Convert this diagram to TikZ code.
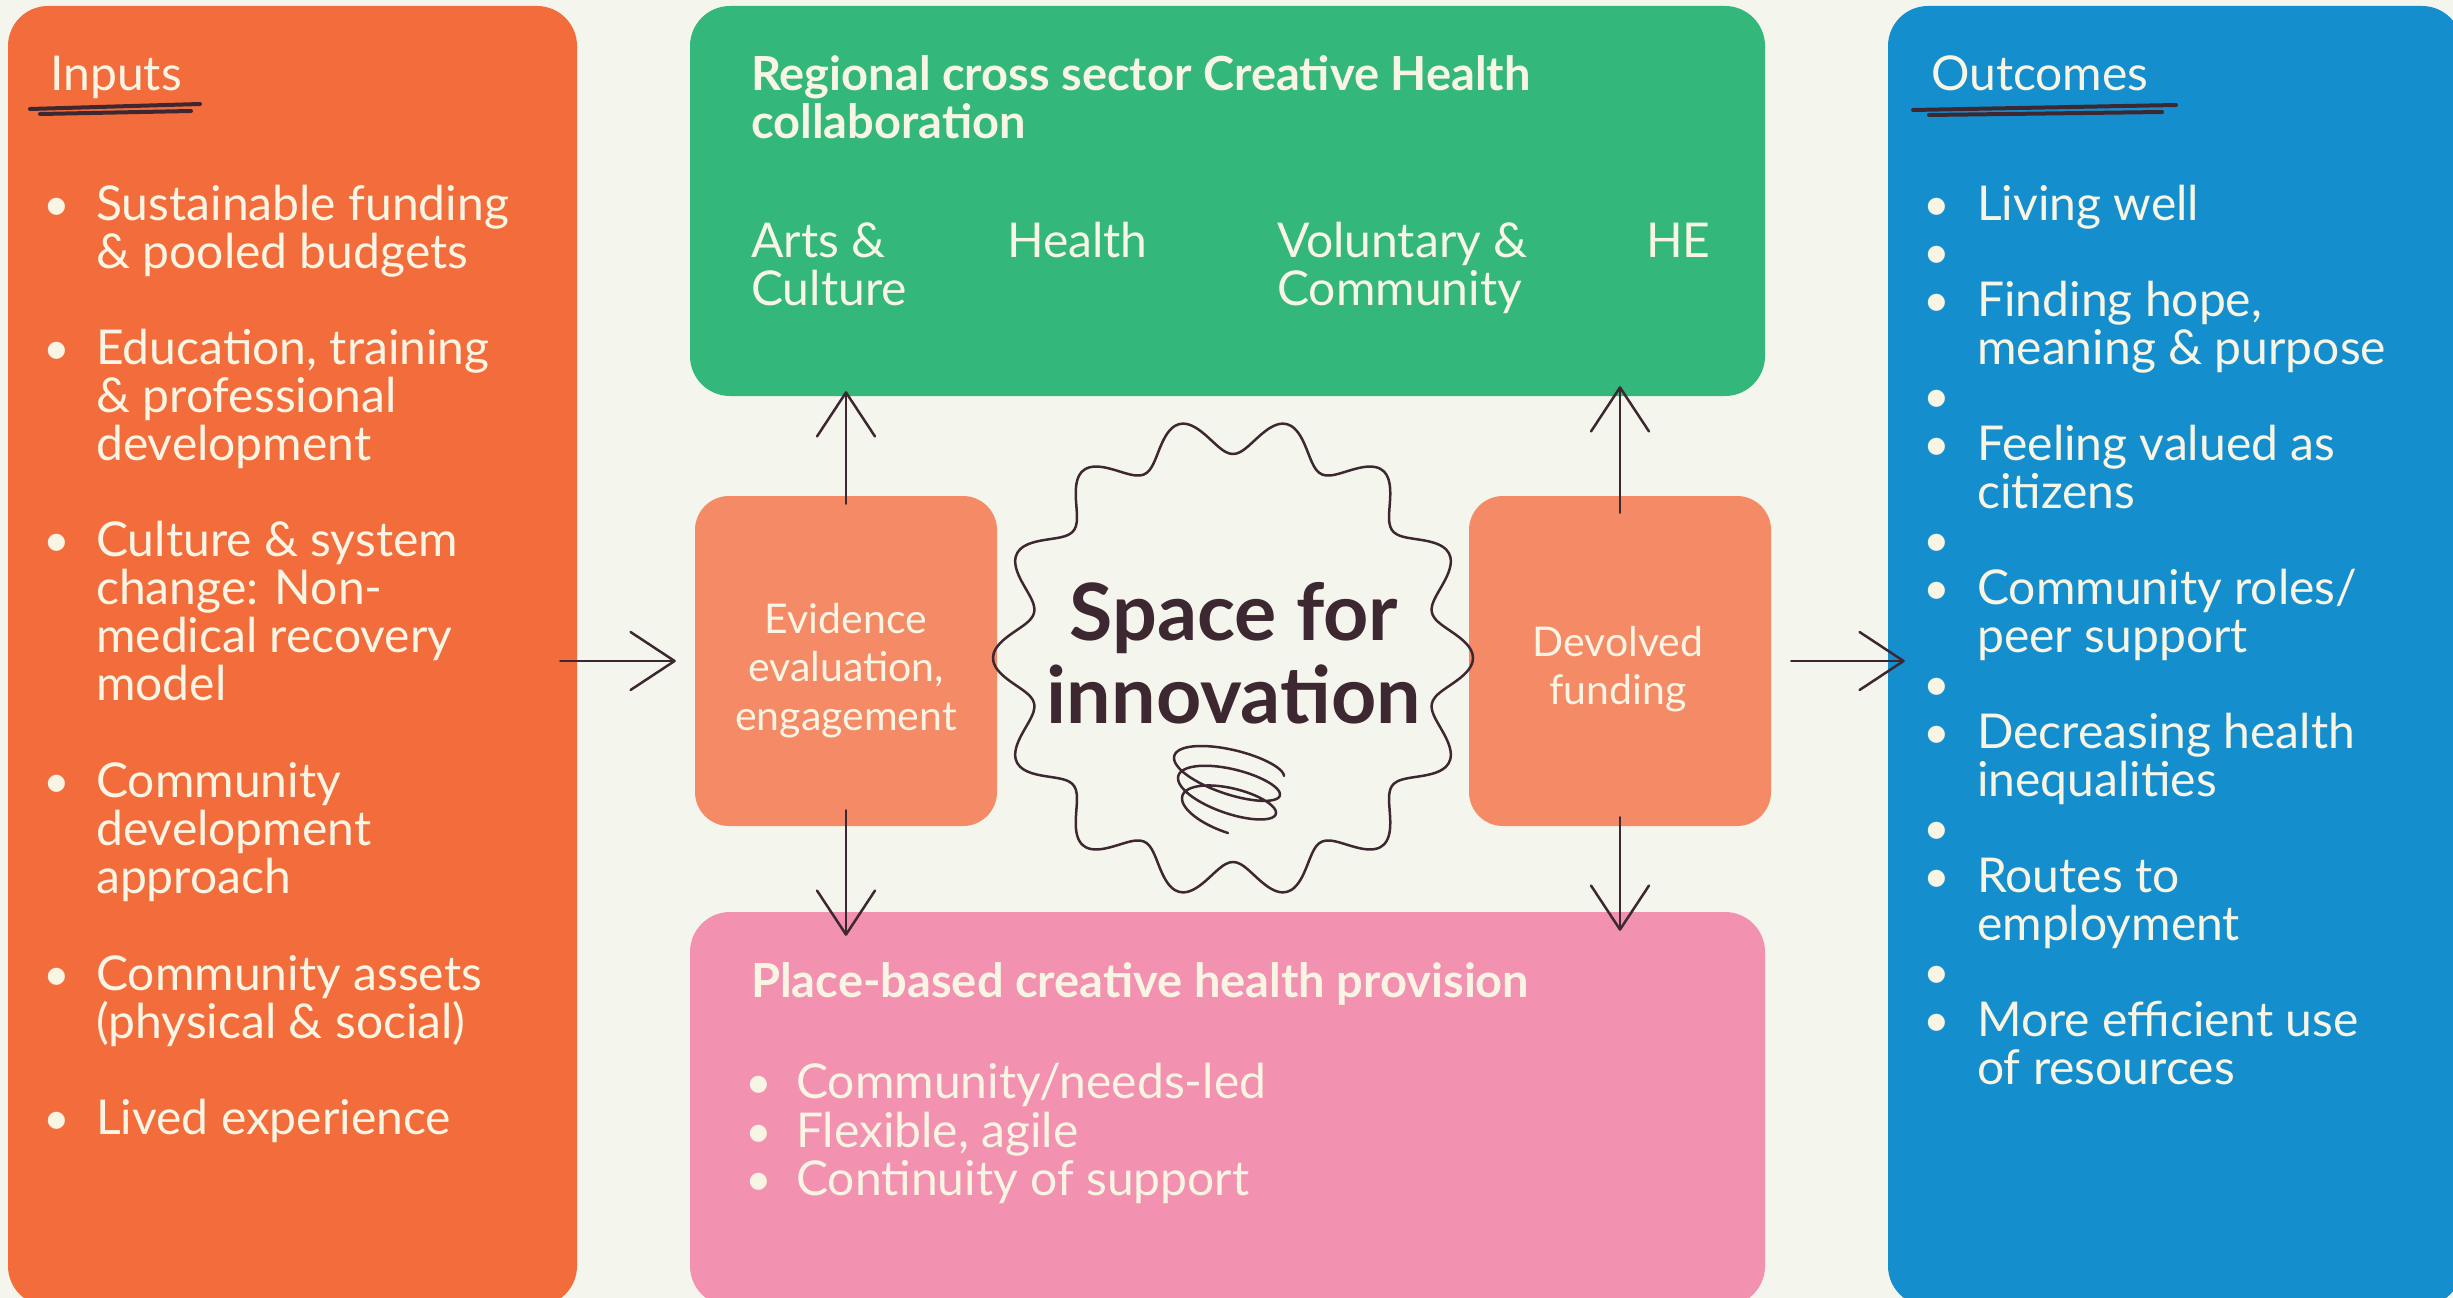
\documentclass[tikz,border=0pt]{standalone}
\usepackage{fontspec}
\setmainfont{Lato}
\usetikzlibrary{positioning, arrows.meta, calc}

\definecolor{paper}{HTML}{F4F5EC}
\definecolor{inputcol}{HTML}{F26D3B}
\definecolor{collabcol}{HTML}{33B77A}
\definecolor{placecol}{HTML}{F291B0}
\definecolor{outcol}{HTML}{158ECD}
\definecolor{linkcol}{HTML}{F58A66}
\definecolor{cream}{HTML}{F8F5E4}
\definecolor{ink}{HTML}{3D2832}

% lines stacked under the first baseline
\newcommand\stack[1]{\vtop{\let\\\cr\halign{##\hfil\cr#1\crcr}}}
\newcommand\cstack[1]{\vtop{\let\\\cr\halign{\hfil##\hfil\cr#1\crcr}}}

\tikzset{
    panel/.style={rounded corners=40pt, inner sep=0pt, draw=none},
    midbox/.style={rounded corners=34pt, inner sep=0pt, fill=linkcol,
        minimum width=302pt, minimum height=330pt},
    midtext/.style={text=cream, inner sep=0pt, anchor=base,
        font=\fontsize{41}{48.5}\selectfont},
    txt/.style={text=cream, inner sep=0pt, anchor=base west,
        font=\fontsize{48}{48.2}\selectfont},
    head/.style={txt, font=\bfseries\fontsize{47}{48.5}\selectfont},
    dot/.style={text=cream, inner sep=0pt, anchor=base, font=\fontsize{46}{48.2}\selectfont},
    arr/.style={draw=ink, line width=2.5pt, line cap=round,
        -{Straight Barb[length=44pt, width=58pt, round]}},
    scribble/.style={draw=ink, line width=2.5pt, line cap=round, line join=round},
}

\begin{document}
\begin{tikzpicture}[x=1pt, y=-1pt]
    \useasboundingbox (0,0) rectangle (2453,1298);
    \fill[paper] (0,0) rectangle (2453,1298);
    \clip (0,0) rectangle (2453,1298);

    % panels
    \node[panel, fill=inputcol, minimum width=569pt, minimum height=1300pt] (inputs) at (292.5,656) {};
    \node[panel, fill=collabcol, minimum width=1075pt, minimum height=390pt] (collab) at (1227.5,201) {};
    \node[panel, fill=placecol, minimum width=1075pt, minimum height=394pt] (place) at (1227.5,1109) {};
    \node[panel, fill=outcol, minimum width=574pt, minimum height=1300pt] (outcomes) at (2175,656) {};
    \node[midbox] (evid) at (846,661) {};
    \node[midbox] (devol) at (1620,661) {};
    \node[midtext] (evidtext) at (846,633) {\cstack{Evidence\\evaluation,\\engagement}};
    \node[midtext] (devoltext) at (1618,656) {\cstack{Devolved\\funding}};

    % inputs
    \node[txt] (inhead) at (50,90) {Inputs};
    \draw[scribble, line width=4pt] (30,109) -- (200,104) (40,114) -- (191,111);
    \foreach \yy/\entry [count=\i] in {
        220/{Sustainable funding\\\& pooled budgets},
        364/{Education, training\\\& professional\\development},
        556/{Culture \& system\\change: Non-\\medical recovery\\model},
        797/{Community\\development\\approach},
        990/{Community assets\\(physical \& social)},
        1134/{Lived experience}}
    {
        \node[dot] (indot-\i) at (57,\yy) {\textbullet};
        \node[txt] (initem-\i) at (96,\yy) {\stack{\entry}};
    }

    % outcomes
    \node[txt] (outhead) at (1931,90) {Outcomes};
    \draw[scribble, line width=4pt] (1913,110) -- (2176,105) (1929,115) -- (2162,112);
    \foreach \yy/\entry [count=\i] in {
        220/{Living well}, 268/{},
        316/{Finding hope,\\meaning \& purpose}, 412/{},
        460/{Feeling valued as\\citizens}, 556/{},
        604/{Community roles/\\peer support}, 700/{},
        748/{Decreasing health\\inequalities}, 844/{},
        892/{Routes to\\employment}, 988/{},
        1036/{More efficient use\\of resources}}
    {
        \node[dot] (outdot-\i) at (1937,\yy) {\textbullet};
        \node[txt] (outitem-\i) at (1977,\yy) {\stack{\entry}};
    }

    % collaboration
    \node[head] (collabhead) at (751,90) {\stack{Regional cross sector Creative Health\\collaboration}};
    \foreach \xx/\sector [count=\i] in {751/{Arts \&\\Culture}, 1007/{Health},
        1277/{Voluntary \&\\Community}, 1646/{HE}}
        \node[txt] (sector-\i) at (\xx,257) {\stack{\sector}};

    % provision
    \node[head] (placehead) at (751,997) {Place-based creative health provision};
    \foreach \yy/\entry [count=\i] in {1098/{Community/needs-led},
        1147/{Flexible, agile}, 1195/{Continuity of support}}
    {
        \node[dot] (placedot-\i) at (759,\yy) {\textbullet};
        \node[txt] (placeitem-\i) at (796,\yy) {\entry};
    }

    % space for innovation
    \coordinate (burst) at (1233,658);
    \draw[scribble, shift={(burst)}] plot[domain=0:359, samples=360, smooth cycle, variable=\t]
        (\t:{222+18*cos(14*\t)});
    \node[text=ink, inner sep=0pt, anchor=base,
        font=\bfseries\fontsize{79}{83}\selectfont] (space) at (1234,640) {\cstack{Space for\\innovation}};
    \draw[scribble] plot[domain=0:990, samples=220, smooth, variable=\t]
        ({1228+(56-11*(\t/990))*cos(\t)}, {762+53*(\t/990)-18*sin(\t)+0.25*(56-11*(\t/990))*cos(\t)});

    % arrows
    \draw[arr] ($(inputs.east |- evid.west)+(-17,0)$) -- ($(evid.west)+(-19,0)$);
    \draw[arr] ($(devol.east)+(20,0)$) -- ($(outcomes.west |- devol.east)+(17,0)$);
    \draw[arr] ($(evid.north)+(0,8)$) -- ($(collab.south -| evid.north)+(0,-5)$);
    \draw[arr] ($(evid.south)+(0,-16)$) -- ($(place.north -| evid.south)+(0,24)$);
    \draw[arr] ($(devol.north)+(0,17)$) -- ($(collab.south -| devol.north)+(0,-10)$);
    \draw[arr] ($(devol.south)+(0,-9)$) -- ($(place.north -| devol.south)+(0,19)$);
\end{tikzpicture}
\end{document}
